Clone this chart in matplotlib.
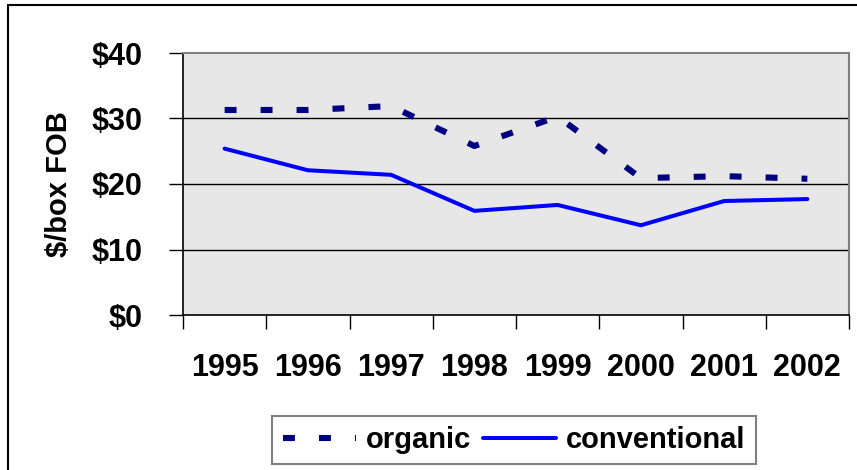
import numpy as np
import matplotlib
matplotlib.use("Agg")
import matplotlib.pyplot as plt
from matplotlib.patches import Rectangle

plt.rcParams['font.family'] = ['Liberation Sans', 'DejaVu Sans']
plt.rcParams['font.weight'] = 'bold'
plt.rcParams['lines.scale_dashes'] = False

years = ['1995', '1996', '1997', '1998', '1999', '2000', '2001', '2002']
organic = [31.3, 31.3, 31.9, 25.8, 30.3, 20.9, 21.2, 20.8]
conventional = [25.4, 22.1, 21.4, 15.9, 16.8, 13.7, 17.4, 17.7]
yticks = [0, 10, 20, 30, 40]
ytick_labels = ['$0', '$10', '$20', '$30', '$40']

fig = plt.figure(figsize=(8.57, 4.70), dpi=100)
ax = fig.add_axes([183/857, 1-315/470, (849-183)/857, (315-53)/470])
ax.set_facecolor('#e7e7e7')

x = np.arange(len(years))
ax.plot(x, organic, color='#000080', lw=4.4, linestyle=(0, (8.6, 17.3)),
        solid_capstyle='butt', dash_capstyle='butt', label='organic')
ax.plot(x, conventional, color='#0000ff', lw=2.9, solid_capstyle='round',
        label='conventional')

ax.set_xlim(-0.5, len(years) - 0.5)
ax.set_ylim(0, 40)

ax.set_yticks(yticks)
ax.set_yticklabels(ytick_labels, fontsize=22, fontweight='bold')
ax.tick_params(axis='y', length=10, width=1, pad=19, direction='out')

ax.set_xticks(np.arange(-0.5, len(years), 1))
ax.set_xticklabels([])
ax.tick_params(axis='x', which='major', length=10, width=1, direction='out')
ax.set_xticks(x, minor=True)
ax.set_xticklabels(years, minor=True, fontsize=22, fontweight='bold')
ax.tick_params(axis='x', which='minor', length=0, pad=27)

for v in yticks[1:-1]:
    ax.axhline(v, color='black', lw=1, zorder=1)

ax.spines['left'].set_color('black')
ax.spines['bottom'].set_color('black')
ax.spines['left'].set_linewidth(1.2)
ax.spines['bottom'].set_linewidth(1.2)
ax.spines['top'].set_color('#808080')
ax.spines['right'].set_color('#808080')
ax.spines['top'].set_linewidth(1.5)
ax.spines['right'].set_linewidth(1.5)

ax.set_ylabel('$/box FOB', fontsize=21, fontweight='bold')
ax.yaxis.set_label_coords(-110/666, 0.5)

leg = fig.legend(loc='center', bbox_to_anchor=(514/857, 1-440/470), ncol=2,
                 frameon=True, fancybox=False, handlelength=2.5,
                 handletextpad=0.35, columnspacing=0.4, borderpad=0.35,
                 prop={'weight': 'bold', 'size': 21})
leg.get_frame().set_edgecolor('#606060')
leg.get_frame().set_linewidth(1.5)

fig.patches.append(Rectangle((8/857, -0.2), 1.5, 1-5/470+0.2, fill=False,
                             edgecolor='black', lw=1.5, transform=fig.transFigure))

fig.savefig('out.png', dpi=100)
